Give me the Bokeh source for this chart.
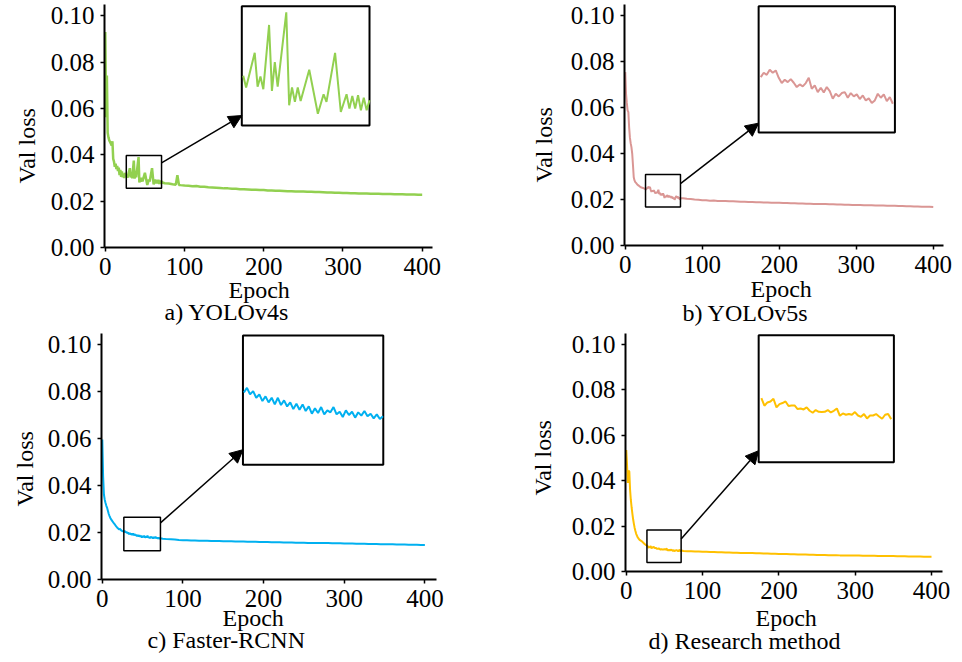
from bokeh.plotting import figure
from bokeh.models import (Range1d, FixedTicker, PrintfTickFormatter, Title,
                          Arrow, NormalHead, ColumnDataSource)
from bokeh.layouts import column, row
from bokeh.embed import file_html
from bokeh.resources import INLINE

FONT = "Liberation Serif"

x_ticks = [0, 100, 200, 300, 400]
y_ticks = [0.00, 0.02, 0.04, 0.06, 0.08, 0.10]
x_label = "Epoch"
y_label = "Val loss"
captions = ["a) YOLOv4s", "b) YOLOv5s", "c) Faster-RCNN", "d) Research method"]

# ---------------- a) YOLOv4s ----------------
a_epoch = (list(range(0, 27))
           + [27, 28, 31, 32, 33, 34, 36, 37, 38, 39, 42, 43, 44, 45, 46, 47, 50, 53, 55, 56,
              59, 61, 63, 64, 65, 66, 67, 68, 69, 70, 71]
           + [72, 73, 75, 80, 85, 89, 91, 93, 95]
           + list(range(100, 405, 5)))
a_loss = ([0.0929, 0.0562, 0.0742, 0.0495, 0.0475, 0.0462, 0.0455, 0.0448, 0.0440, 0.0458,
           0.0382, 0.0370, 0.0348, 0.0362, 0.0338, 0.0352, 0.0330, 0.0345, 0.0312, 0.0335,
           0.0305, 0.0328, 0.0303, 0.0318, 0.0300, 0.0322, 0.0308]
          + [0.0315, 0.0301, 0.0342, 0.0302, 0.0314, 0.0299, 0.0375, 0.0297, 0.0331, 0.0302,
             0.0390, 0.0280, 0.0301, 0.0284, 0.0301, 0.0285, 0.0322, 0.0270, 0.0293, 0.0284,
             0.0342, 0.0272, 0.0293, 0.0276, 0.0291, 0.0276, 0.0292, 0.0274, 0.0289, 0.0274,
             0.0286]
          + [0.0281, 0.0279, 0.0277, 0.0276, 0.0273, 0.0271, 0.0312, 0.0270, 0.0269]
          + [0.0267, 0.0266, 0.0264, 0.0265, 0.0262, 0.0262, 0.0260, 0.0259, 0.0258, 0.0257,
             0.0255, 0.0255, 0.0253, 0.0253, 0.0251, 0.0251, 0.0250, 0.0249, 0.0249, 0.0248,
             0.0248, 0.0246, 0.0246, 0.0245, 0.0245, 0.0244, 0.0243, 0.0243, 0.0242, 0.0242,
             0.0241, 0.0240, 0.0240, 0.0239, 0.0239, 0.0238, 0.0237, 0.0237, 0.0236, 0.0236,
             0.0235, 0.0235, 0.0234, 0.0234, 0.0233, 0.0233, 0.0233, 0.0232, 0.0232, 0.0232,
             0.0231, 0.0231, 0.0231, 0.0230, 0.0230, 0.0230, 0.0229, 0.0229, 0.0229, 0.0228,
             0.0228])

# ---------------- b) YOLOv5s ----------------
b_epoch = list(range(0, 73)) + [75, 80, 85, 90, 95] + list(range(100, 405, 5))
b_loss = ([0.0754, 0.0660, 0.0620, 0.0588, 0.0580, 0.0515, 0.0470, 0.0445, 0.0428, 0.0400,
           0.0350, 0.0297, 0.0283, 0.0276, 0.0272, 0.0268, 0.0264, 0.0261, 0.0259, 0.0256,
           0.0254, 0.0252, 0.0251, 0.0250, 0.0249, 0.0247, 0.0245]
          + [0.02436, 0.02509, 0.02475, 0.02559, 0.02509, 0.02548, 0.02425, 0.02335, 0.02391, 0.02352,
             0.02402, 0.02341, 0.02268, 0.02312, 0.02279, 0.02335, 0.02425, 0.02240, 0.02296, 0.02183,
             0.02257, 0.02178, 0.02268, 0.02200, 0.02071, 0.02155, 0.02110, 0.02167, 0.02183, 0.02088,
             0.02167, 0.02110, 0.02144, 0.02066, 0.02127, 0.02043, 0.02077, 0.01998, 0.02043, 0.02155,
             0.02088, 0.02144, 0.02032, 0.02099, 0.01987, 0.02054]
          + [0.0205, 0.0203, 0.0202, 0.0200, 0.0199]
          + [0.0197, 0.0197, 0.0195, 0.0196, 0.0194, 0.0194, 0.0193, 0.0192, 0.0192, 0.0191,
             0.0190, 0.0190, 0.0189, 0.0189, 0.0188, 0.0188, 0.0187, 0.0187, 0.0186, 0.0186,
             0.0186, 0.0185, 0.0185, 0.0184, 0.0184, 0.0183, 0.0183, 0.0182, 0.0182, 0.0181,
             0.0181, 0.0180, 0.0180, 0.0179, 0.0179, 0.0178, 0.0178, 0.0177, 0.0177, 0.0176,
             0.0176, 0.0176, 0.0175, 0.0175, 0.0175, 0.0174, 0.0174, 0.0174, 0.0173, 0.0173,
             0.0173, 0.0172, 0.0172, 0.0171, 0.0171, 0.0170, 0.0170, 0.0169, 0.0169, 0.0168,
             0.0167])

# ---------------- c) Faster-RCNN ----------------
c_epoch = list(range(0, 73)) + [75, 80, 85, 90, 95] + list(range(100, 405, 5))
c_loss = ([0.0596, 0.0440, 0.0362, 0.0340, 0.0326, 0.0314, 0.0305, 0.0292, 0.0279, 0.0270,
           0.0262, 0.0256, 0.0251, 0.0246, 0.0241, 0.0237, 0.0232, 0.0227, 0.0223, 0.0219,
           0.0216, 0.0214, 0.0216, 0.0211, 0.0208, 0.0206, 0.0205]
          + [0.02023, 0.02074, 0.02002, 0.02038, 0.01965, 0.02002, 0.01929, 0.01980, 0.01914, 0.01965,
             0.01892, 0.01965, 0.01885, 0.01936, 0.01870, 0.01914, 0.01841, 0.01900, 0.01834, 0.01892,
             0.01820, 0.01870, 0.01790, 0.01849, 0.01798, 0.01863, 0.01783, 0.01827, 0.01805, 0.01863,
             0.01783, 0.01812, 0.01754, 0.01827, 0.01776, 0.01812, 0.01747, 0.01805, 0.01769, 0.01820,
             0.01761, 0.01790, 0.01739, 0.01783, 0.01732, 0.01761]
          + [0.0174, 0.0172, 0.0171, 0.0170, 0.0168]
          + [0.0167, 0.0167, 0.0166, 0.0166, 0.0165, 0.0165, 0.0165, 0.0164, 0.0164, 0.0164,
             0.0163, 0.0163, 0.0163, 0.0162, 0.0162, 0.0162, 0.0161, 0.0161, 0.0161, 0.0160,
             0.0160, 0.0160, 0.0159, 0.0159, 0.0159, 0.0158, 0.0158, 0.0158, 0.0157, 0.0157,
             0.0157, 0.0156, 0.0156, 0.0156, 0.0155, 0.0155, 0.0155, 0.0154, 0.0154, 0.0154,
             0.0153, 0.0153, 0.0153, 0.0152, 0.0152, 0.0152, 0.0151, 0.0151, 0.0151, 0.0150,
             0.0150, 0.0150, 0.0150, 0.0149, 0.0149, 0.0149, 0.0148, 0.0148, 0.0148, 0.0147,
             0.0147])

# ---------------- d) Research method ----------------
d_epoch = list(range(0, 73)) + [75, 80, 85, 90, 95] + list(range(100, 405, 5))
d_loss = ([0.0535, 0.0470, 0.0390, 0.0445, 0.0440, 0.0360, 0.0315, 0.0283, 0.0255, 0.0230,
           0.0210, 0.0192, 0.0178, 0.0166, 0.0158, 0.0150, 0.0146, 0.0141, 0.0138, 0.0136,
           0.0134, 0.0131, 0.0128, 0.0124, 0.0121, 0.0119, 0.0116]
          + [0.01149, 0.01123, 0.01037, 0.01074, 0.01085, 0.01115, 0.01018, 0.01055, 0.01067, 0.01085,
             0.01033, 0.01040, 0.01040, 0.00999, 0.01006, 0.00995, 0.01018, 0.00980, 0.00958, 0.00988,
             0.00969, 0.00965, 0.00969, 0.00988, 0.00961, 0.00980, 0.01006, 0.00924, 0.00950, 0.00935,
             0.00943, 0.00935, 0.00965, 0.00927, 0.00912, 0.00943, 0.00894, 0.00927, 0.00927, 0.00943,
             0.00916, 0.00890, 0.00935, 0.00943, 0.00886, 0.00924]
          + [0.0090, 0.0089, 0.0089, 0.0088, 0.0088]
          + [0.0087, 0.0087, 0.0086, 0.0086, 0.0085, 0.0085, 0.0084, 0.0084, 0.0083, 0.0083,
             0.0082, 0.0082, 0.0081, 0.0081, 0.0080, 0.0080, 0.0079, 0.0079, 0.0078, 0.0078,
             0.0077, 0.0077, 0.0077, 0.0076, 0.0076, 0.0075, 0.0075, 0.0075, 0.0074, 0.0074,
             0.0073, 0.0073, 0.0073, 0.0072, 0.0072, 0.0072, 0.0071, 0.0071, 0.0071, 0.0070,
             0.0070, 0.0070, 0.0069, 0.0069, 0.0069, 0.0069, 0.0068, 0.0068, 0.0068, 0.0068,
             0.0068, 0.0067, 0.0067, 0.0067, 0.0066, 0.0066, 0.0066, 0.0066, 0.0065, 0.0065,
             0.0065])

colors = ["#92D050", "#DA9694", "#00B0F0", "#FFC000"]

Y_END = 0.1048

# layout / style settings per panel (pixels, zoom windows, inset placement)
settings = [
    dict(epoch=a_epoch, loss=a_loss, fw=328, fh=243, bl=104, br=48, bt=4, bb=84, xe=413.0,
         zx=(26.5, 71.0), zy=(0.0256, 0.0397), iy=(0.0256, 0.0397),
         tx=(172.3, 333.5), ty=(0.0526, 0.1040), a0=0.0365, a1=0.0569,
         ep_off=124, ep_s=-5, cap_off=60, cap_s=-7, yl_off=64, yl_s=16, lw=2.5),
    dict(epoch=b_epoch, loss=b_loss, fw=319, fh=241, bl=144, br=19, bt=4, bb=86, xe=413.3,
         zx=(26.3, 71.7), zy=(0.0167, 0.0309), iy=(0.0150, 0.0363),
         tx=(173.2, 350.2), ty=(0.0491, 0.1040), a0=0.0269, a1=0.0532,
         ep_off=126, ep_s=-3, cap_off=58, cap_s=-6, yl_off=63, yl_s=22, lw=2),
    dict(epoch=c_epoch, loss=c_loss, fw=335, fh=246, bl=101, br=44, bt=1, bb=83, xe=414.4,
         zx=(26.7, 72.1), zy=(0.0123, 0.0265), iy=(0.0123, 0.0265),
         tx=(174.4, 348.4), ty=(0.0489, 0.1040), a0=0.0241, a1=0.0553,
         ep_off=121, ep_s=-13, cap_off=46, cap_s=1, yl_off=73, yl_s=13, lw=2),
    dict(epoch=d_epoch, loss=d_loss, fw=317, fh=238, bl=145, br=20, bt=2, bb=89, xe=414.4,
         zx=(27.1, 71.9), zy=(0.0040, 0.0183), iy=(0.0040, 0.0183),
         tx=(173.5, 350.7), ty=(0.0481, 0.1040), a0=0.0143, a1=0.0532,
         ep_off=130, ep_s=3, cap_off=23, cap_s=-13, yl_off=76, yl_s=25, lw=2),
]


def make_panel(s, color, caption):
    p = figure(frame_width=s["fw"], frame_height=s["fh"],
               x_range=Range1d(-1, s["xe"]), y_range=Range1d(0, Y_END),
               output_backend="svg", toolbar_location=None,
               min_border_left=s["bl"], min_border_right=s["br"],
               min_border_top=s["bt"], min_border_bottom=s["bb"],
               background_fill_color="white", border_fill_color="white")
    p.xgrid.visible = False
    p.ygrid.visible = False
    p.outline_line_color = None
    p.xaxis.ticker = FixedTicker(ticks=x_ticks)
    p.yaxis.ticker = FixedTicker(ticks=y_ticks)
    p.yaxis.formatter = PrintfTickFormatter(format="%.2f")
    for ax in (p.xaxis[0], p.yaxis[0]):
        ax.major_label_text_font = FONT
        ax.major_label_text_font_size = "25px"
        ax.major_label_text_color = "black"
        ax.axis_line_color = "black"
        ax.axis_line_width = 2
        ax.major_tick_line_color = "black"
        ax.major_tick_line_width = 1.5
        ax.major_tick_in = 0
        ax.major_tick_out = 4
        ax.minor_tick_line_color = None
        ax.major_label_standoff = 6

    src = ColumnDataSource(dict(x=s["epoch"], y=s["loss"]))
    p.line("x", "y", source=src, line_color=color, line_width=s["lw"])

    # zoom window box
    x0, x1 = s["zx"]
    y0, y1 = s["zy"]
    p.quad(left=[x0], right=[x1], bottom=[y0], top=[y1], fill_color=None,
           line_color="black", line_width=1.5)

    # inset frame
    tx0, tx1 = s["tx"]
    ty0, ty1 = s["ty"]
    p.quad(left=[tx0], right=[tx1], bottom=[ty0], top=[ty1], fill_color="white",
           line_color="black", line_width=2)

    # inset content via sub-coordinates
    sub = p.subplot(x_source=Range1d(x0, x1), y_source=Range1d(*s["iy"]),
                    x_target=Range1d(tx0, tx1), y_target=Range1d(ty0, ty1))
    ix = [e for e in s["epoch"] if x0 <= e <= x1]
    iy = [v for e, v in zip(s["epoch"], s["loss"]) if x0 <= e <= x1]
    sub.line(x=ix, y=iy, line_color=color, line_width=2)

    p.add_layout(Arrow(end=NormalHead(size=13, fill_color="black", line_color="black", line_width=1),
                       x_start=x1, y_start=s["a0"], x_end=tx0, y_end=s["a1"],
                       line_color="black", line_width=1.5))

    def title(text, off, standoff):
        return Title(text=text, align="left", offset=off, text_font=FONT,
                     text_font_size="24px", text_font_style="normal",
                     text_color="black", standoff=standoff)

    p.add_layout(title(x_label, s["ep_off"], s["ep_s"]), "below")
    p.add_layout(title(caption, s["cap_off"], s["cap_s"]), "below")
    p.add_layout(title(y_label, s["yl_off"], s["yl_s"]), "left")
    return p


panels = [make_panel(s, c, cap) for s, c, cap in zip(settings, colors, captions)]
layout = column(row(panels[0], panels[1]), row(panels[2], panels[3]))

open("out.html", "w").write(file_html(layout, INLINE))
